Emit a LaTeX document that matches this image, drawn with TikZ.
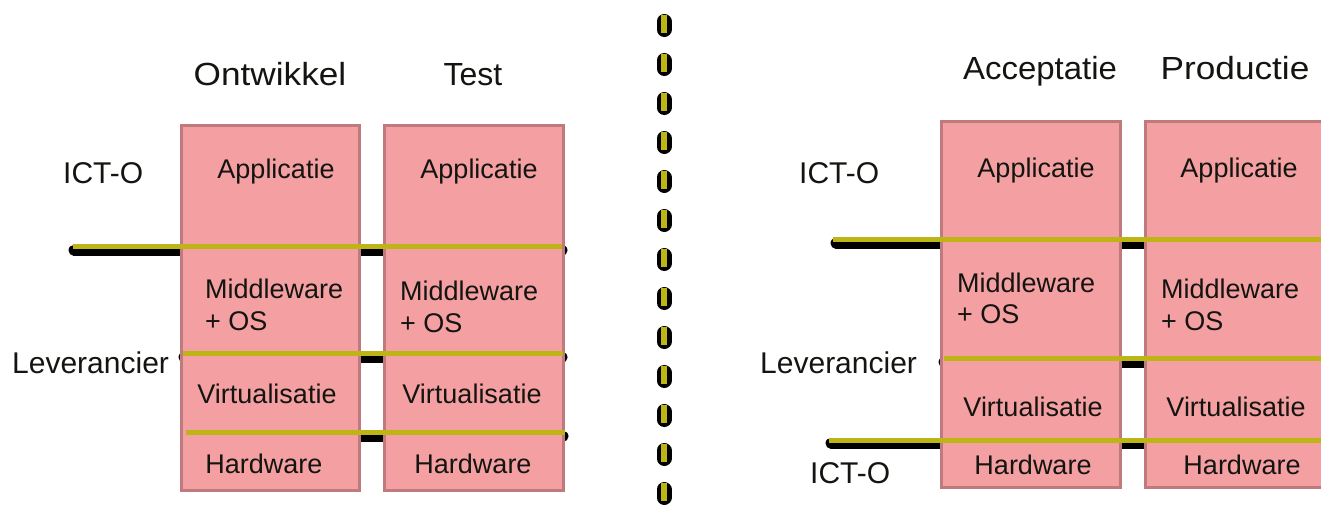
\documentclass[tikz,border=0pt]{standalone}
\usepackage{fontspec}
\setmainfont{Liberation Sans}
\usepackage{graphicx}
\definecolor{boxfill}{RGB}{244,160,163}
\definecolor{boxline}{RGB}{190,122,124}
\definecolor{olive}{RGB}{189,181,22}
\definecolor{ink}{RGB}{20,20,16}
\tikzset{
  envbox/.style={draw=boxline, fill=boxfill, line width=3pt, inner sep=0pt},
  blackbar/.style={draw=black, line width=11pt, line cap=round},
  olivebar/.style={draw=olive, line width=5pt, line cap=butt},
  layer/.style={font=\fontsize{27}{32}\selectfont, text=ink, inner sep=0pt, anchor=base},
  layerl/.style={font=\fontsize{27}{32}\selectfont, text=ink, inner sep=0pt, anchor=base west, align=left},
  side/.style={font=\fontsize{30}{34}\selectfont, text=ink, inner sep=0pt, anchor=base west},
  head/.style={font=\fontsize{32}{36}\selectfont, text=ink, inner sep=0pt, anchor=base},
}
\begin{document}
\begin{tikzpicture}[x=1pt, y=-1pt]
\useasboundingbox (0,0) rectangle (1321,512);
\clip (0,0) rectangle (1321,512);

% black layer boundaries (behind the stacks)
\draw[blackbar] (74,250) -- (562,250);
\draw[blackbar] (184,357) -- (562,357);
\draw[blackbar] (187,436) -- (563,436);
\draw[blackbar] (836,243) -- (1340,243);
\draw[blackbar] (944,362) -- (1340,362);
\draw[blackbar] (831,443) -- (1340,443);

% environment stacks
\node[envbox, minimum width=178pt, minimum height=365pt] (ont) at (270,307.5) {};
\node[envbox, minimum width=179pt, minimum height=365pt] (tst) at (473.5,307.5) {};
\node[envbox, minimum width=179pt, minimum height=366pt] (acc) at (1030.5,304) {};
\node[envbox, minimum width=200pt, minimum height=366pt] (prd) at (1245,304) {};

% olive boundaries on top
\draw[olivebar] (73,246.5) -- (562,246.5);
\draw[olivebar] (183,353) -- (563,353);
\draw[olivebar] (186,432) -- (565,432);
\draw[olivebar] (833,239) -- (1330,239);
\draw[olivebar] (944,358) -- (1330,358);
\draw[olivebar] (829,440) -- (1330,440);

% vertical divider
\draw[draw=black, line width=15pt, line cap=round, dash pattern=on 8pt off 31pt]
  (664,21.5) -- (664,530);
\draw[draw=olive, line width=6pt, line cap=butt, dash pattern=on 18pt off 21pt]
  (663.5,15) -- (663.5,530);

% column headings
\node[head] (hont) at (270,85) {\scalebox{1.1}[1]{Ontwikkel}};
\node[head] (htst) at (473,85) {Test};
\node[head] (hacc) at (1040,79) {\scalebox{1.03}[1]{Acceptatie}};
\node[head] (hprd) at (1235,79) {\scalebox{1.1}[1]{Productie}};

% side labels
\node[side] (ictl) at (63,183) {ICT-O};
\node[side] (levl) at (12,373) {Leverancier};
\node[side] (ictr) at (799,183) {ICT-O};
\node[side] (levr) at (760,373) {Leverancier};
\node[side] (ictb) at (810,483) {ICT-O};

% layer labels, Ontwikkel
\node[layer] (a1) at (276,178) {Applicatie};
\node[layerl] (m1) at (205,298) {Middleware};
\node[layerl] (o1) at (205,330) {+ OS};
\node[layer] (v1) at (267,403) {Virtualisatie};
\node[layer] (h1) at (264,473) {Hardware};

% layer labels, Test
\node[layer] (a2) at (479,178) {Applicatie};
\node[layerl] (m2) at (400,300) {Middleware};
\node[layerl] (o2) at (400,332) {+ OS};
\node[layer] (v2) at (472,403) {Virtualisatie};
\node[layer] (h2) at (473,473) {Hardware};

% layer labels, Acceptatie
\node[layer] (a3) at (1036,177) {Applicatie};
\node[layerl] (m3) at (957,292) {Middleware};
\node[layerl] (o3) at (957,323) {+ OS};
\node[layer] (v3) at (1033,416) {Virtualisatie};
\node[layer] (h3) at (1033,474) {Hardware};

% layer labels, Productie
\node[layer] (a4) at (1239,177) {Applicatie};
\node[layerl] (m4) at (1161,298) {Middleware};
\node[layerl] (o4) at (1161,330) {+ OS};
\node[layer] (v4) at (1236,416) {Virtualisatie};
\node[layer] (h4) at (1242,474) {Hardware};
\end{tikzpicture}
\end{document}
